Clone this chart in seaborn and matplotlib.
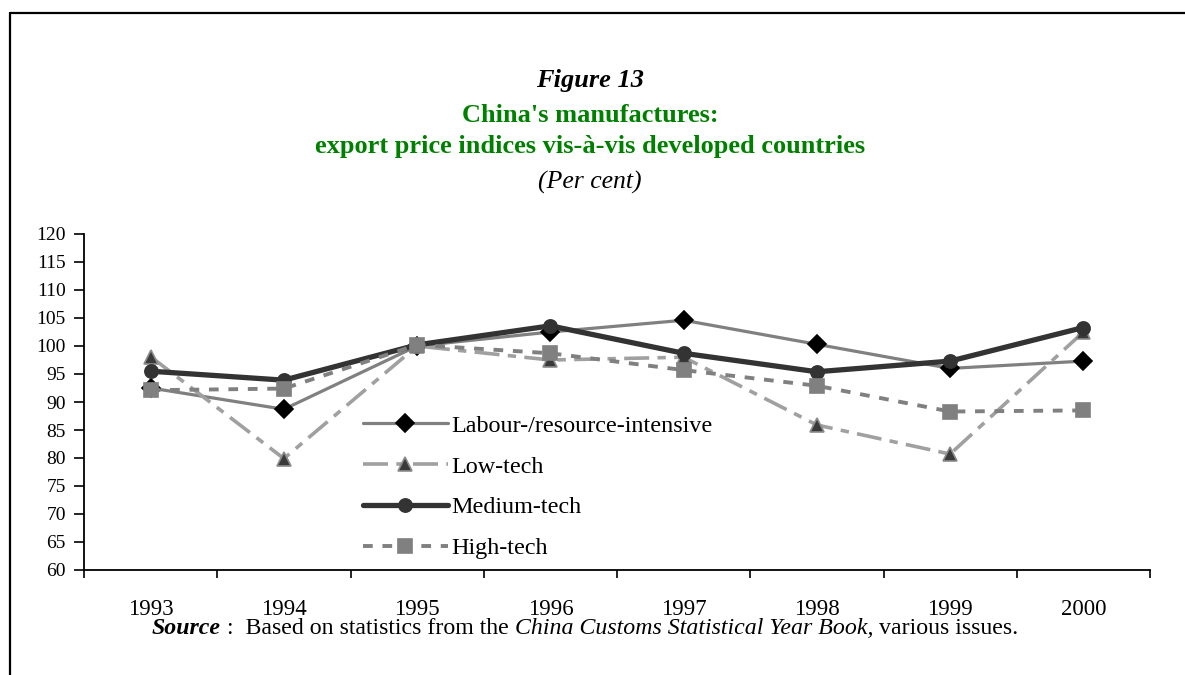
# encoding: utf-8
import matplotlib
matplotlib.use("Agg")
import matplotlib.pyplot as plt
from matplotlib.lines import Line2D
import seaborn as sns
import pandas as pd
import numpy as np

# Data
years = [1993, 1994, 1995, 1996, 1997, 1998, 1999, 2000]
labour = [92.5, 88.7, 100.0, 102.5, 104.6, 100.3, 96.0, 97.3]
low_tech = [98.1, 79.9, 100.0, 97.5, 98.0, 85.9, 80.7, 102.5]
medium_tech = [95.5, 93.9, 100.2, 103.6, 98.7, 95.4, 97.3, 103.3]
high_tech = [92.1, 92.4, 100.2, 98.7, 95.7, 92.9, 88.3, 88.5]
series_names = ["Labour-/resource-intensive", "Low-tech", "Medium-tech", "High-tech"]

sns.set_style("white")
plt.rcParams["font.family"] = ["Liberation Serif", "DejaVu Serif"]
plt.rcParams["lines.scale_dashes"] = False
plt.rcParams["text.color"] = "black"
plt.rcParams["xtick.color"] = "black"
plt.rcParams["ytick.color"] = "black"

df = pd.DataFrame({"year": years, series_names[0]: labour,
                   series_names[1]: low_tech, series_names[2]: medium_tech,
                   series_names[3]: high_tech})

fig = plt.figure(figsize=(11.85, 6.75), dpi=100)
ax = fig.add_axes([84 / 1185, 105 / 675, 1066 / 1185, 336 / 675])

styles = {
    series_names[0]: dict(color="#808080", lw=2.3, marker="D", ms=9,
                          mfc="black", mec="black", dashes=None),
    series_names[1]: dict(color="#a0a0a0", lw=2.6, marker="^", ms=10,
                          mfc="#3a3a3a", mec="#8c8c8c", dashes=(18, 6, 6, 6)),
    series_names[2]: dict(color="#333333", lw=3.8, marker="o", ms=9.5,
                          mfc="#333333", mec="#333333", dashes=None),
    series_names[3]: dict(color="#808080", lw=2.8, marker="s", ms=10.5,
                          mfc="#808080", mec="#808080", dashes=(7, 7)),
}

handles = []
for name in series_names:
    st = styles[name]
    sns.lineplot(data=df, x="year", y=name, ax=ax, color=st["color"],
                 linewidth=st["lw"], marker=st["marker"], markersize=st["ms"],
                 markerfacecolor=st["mfc"], markeredgecolor=st["mec"],
                 markeredgewidth=1.2)
    line = ax.lines[-1]
    if st["dashes"] is not None:
        line.set_dashes(st["dashes"])
    handles.append(line)

ax.set_xlim(years[0] - 0.5, years[-1] + 0.5)
ax.set_ylim(60, 120)
ax.set_yticks(np.arange(60, 121, 5))
ax.set_xticks(np.arange(years[0] - 0.5, years[-1] + 1, 1))
ax.set_xticklabels([])
ax.set_xticks(years, minor=True)
ax.set_xticklabels([str(y) for y in years], minor=True, fontsize=16.5)
ax.tick_params(axis="x", which="major", direction="out", length=6, width=1.2,
               color="black", bottom=True)
ax.tick_params(axis="x", which="minor", length=0, pad=21)
ax.tick_params(axis="y", direction="out", length=7, width=1.2, color="black",
               left=True, labelsize=14, pad=6)
ax.set_xlabel("")
ax.set_ylabel("")
for side in ["top", "right"]:
    ax.spines[side].set_visible(False)
for side in ["left", "bottom"]:
    ax.spines[side].set_color("black")
    ax.spines[side].set_linewidth(1.3)

leg = ax.legend(handles, series_names, loc="upper left",
                bbox_to_anchor=(363 / 1185, 1 - 415 / 675),
                bbox_transform=fig.transFigure, frameon=False,
                fontsize=17.4, handlelength=3.5, handletextpad=0.15,
                labelspacing=0.78, borderpad=0, borderaxespad=0)

# Titles
cx = 590 / 1185
fig.text(cx, 1 - 80 / 675, "Figure 13", ha="center", va="center",
         fontsize=19, fontweight="bold", fontstyle="italic")
fig.text(cx, 1 - 115 / 675, "China's manufactures:", ha="center", va="center",
         fontsize=19, fontweight="bold", color="#008000")
fig.text(cx, 1 - 147 / 675, "export price indices vis-\u00e0-vis developed countries",
         ha="center", va="center", fontsize=19, fontweight="bold", color="#008000")
fig.text(cx, 1 - 182 / 675, "(Per cent)", ha="center", va="center",
         fontsize=18.5, fontstyle="italic")

# Source line built from pieces with different styles
pieces = [("Source", dict(fontweight="bold", fontstyle="italic")),
          (" :  Based on statistics from the ", dict()),
          ("China Customs Statistical Year Book,", dict(fontstyle="italic")),
          (" various issues.", dict())]
fig.canvas.draw()
renderer = fig.canvas.get_renderer()
x_px = 152
for txt, kw in pieces:
    t = fig.text(x_px / 1185, 1 - 629 / 675, txt, ha="left", va="center",
                 fontsize=17.2, **kw)
    bb = t.get_window_extent(renderer)
    x_px += bb.width

# Frame lines on top and left
fig.add_artist(Line2D([10 / 1185, 1], [1 - 13 / 675, 1 - 13 / 675],
                      transform=fig.transFigure, color="black", lw=1.6))
fig.add_artist(Line2D([10 / 1185, 10 / 1185], [0, 1 - 13 / 675],
                      transform=fig.transFigure, color="black", lw=1.6))

fig.savefig("out.png", dpi=100)
